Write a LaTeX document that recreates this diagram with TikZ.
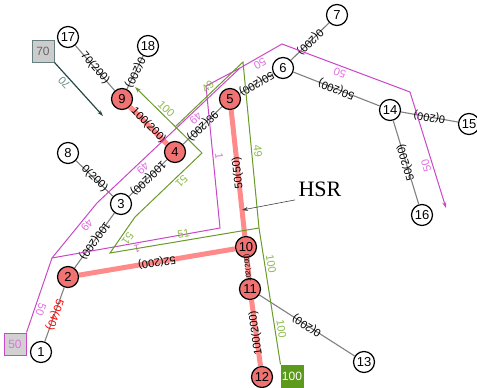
\documentclass[tikz,border=0pt]{standalone}
\usepackage{fontspec}
\setmainfont{Liberation Sans}
\newfontfamily\hsrfont{Liberation Serif}
\usetikzlibrary{arrows.meta}

\definecolor{edgegray}{HTML}{808080}
\definecolor{hotred}{HTML}{FF8A8A}
\definecolor{nodered}{HTML}{F07272}
\definecolor{flowmag}{HTML}{C848C8}
\definecolor{labmag}{HTML}{E070E0}
\definecolor{flowgreen}{HTML}{6A9A2A}
\definecolor{labgreen}{HTML}{8CBB4C}
\definecolor{boxgreen}{HTML}{5C9A1C}
\definecolor{flowteal}{HTML}{264848}
\definecolor{labteal}{HTML}{6A8C8C}

\begin{document}
\begin{tikzpicture}[x=1pt, y=-1pt,
        stop/.style={circle, draw=black, line width=1.2pt, fill=white, minimum size=21pt, inner sep=0pt, font=\fontsize{13}{13}\selectfont},
        hot/.style={stop, fill=nodered},
        link/.style={draw=edgegray, line width=1.1pt},
        busy/.style={draw=hotred, line width=5pt},
        linklabel/.style={sloped, allow upside down, inner sep=1pt, font=\fontsize{11}{11}\selectfont},
        flowlabel/.style={sloped, allow upside down, rotate=180, above=1pt, inner sep=1pt, font=\fontsize{11}{11}\selectfont},
        source/.style={draw, line width=1pt, minimum width=22pt, minimum height=22pt, inner sep=0pt, font=\fontsize{12}{12}\selectfont},
        flowtip/.style={-{Stealth[length=6pt, width=4pt]}}
    ]
    \useasboundingbox (0,0) rectangle (477,388);

    % Stops
    \node[stop] (n1) at (41,352) {1};
    \node[hot] (n2) at (68,277) {2};
    \node[stop] (n3) at (121,204) {3};
    \node[hot] (n4) at (175,152) {4};
    \node[hot] (n5) at (230,99) {5};
    \node[stop] (n6) at (283,68) {6};
    \node[stop] (n7) at (337,15) {7};
    \node[stop] (n8) at (68,153) {8};
    \node[hot] (n9) at (122,99) {9};
    \node[hot] (n10) at (246,247) {10};
    \node[hot] (n11) at (250,289) {11};
    \node[hot] (n12) at (262,377) {12};
    \node[stop] (n13) at (364,362) {13};
    \node[stop] (n14) at (390,110) {14};
    \node[stop] (n15) at (469,124) {15};
    \node[stop] (n16) at (422,215) {16};
    \node[stop] (n17) at (68,37) {17};
    \node[stop] (n18) at (148,46) {18};

    % Links
    \foreach \a/\b/\t in {17/9/70(200), 18/9/0(200), 8/3/0(200), 4/3/100(200), 3/2/100(200), 5/4/98(200),
                          6/5/50(200), 7/6/0(200), 14/6/50(200), 15/14/0(200), 16/14/50(200), 13/11/0(200)}
        \draw[link] (n\a) -- node[linklabel] {\t} (n\b);
    \draw[link] (n2) -- node[linklabel, text=red] {50(40)} (n1);

    % Busy links
    \foreach \a/\b/\t in {9/4/100(200), 10/2/52(200), 10/5/50(50), 12/11/100(200)}
        \draw[busy] (n\a) -- node[linklabel] {\t} (n\b);
    \draw[busy] (n11) -- node[linklabel, font=\fontsize{7}{7}\selectfont] {102(200)} (n10);

    % Sources
    \node[source, draw=flowmag, fill=black!18, text=labmag] (b50) at (15,344) {50};
    \node[source, draw=flowteal!70, fill=black!20, text=black!60] (b70) at (43,51) {70};
    \node[source, draw=boxgreen, fill=boxgreen, text=white] (b100) at (292,376) {100};

    % Magenta flow
    \coordinate (mB) at (52,258);
    \coordinate (mC) at (97,203);
    \coordinate (mE) at (240,68);
    \coordinate (mF) at (282,44);
    \coordinate (mG) at (410,92);
    \coordinate (mH) at (446,208);
    \coordinate (mI) at (220,228);
    \coordinate (mJ) at (206,86);
    \draw[flowmag, line width=1pt, flowtip] (b50.north east) -- node[flowlabel, text=labmag, pos=0.33] {50} (mB)
        -- node[flowlabel, text=labmag, pos=0.67] {49} (mC)
        -- node[flowlabel, text=labmag, pos=0.29] {49} node[flowlabel, text=labmag, pos=0.66] {49} (mE)
        -- node[flowlabel, text=labmag, pos=0.4] {50} (mF)
        -- node[flowlabel, text=labmag, pos=0.47] {50} (mG)
        -- node[flowlabel, text=labmag, pos=0.62] {50} (mH);
    \draw[flowmag, line width=1pt] (mB) -- node[flowlabel, text=labmag] {1} (mI)
        -- node[flowlabel, text=labmag] {1} (mJ) -- (mE);

    % Green flow
    \coordinate (gB) at (259,228);
    \coordinate (gC) at (243,62);
    \coordinate (gD) at (175,127);
    \coordinate (gE) at (110,253);
    \coordinate (gF) at (135,217);
    \coordinate (gG) at (202,153);
    \coordinate (gH) at (135,87);
    \draw[flowgreen, line width=1pt] (b100.north west) -- node[flowlabel, text=labgreen, pos=0.25] {100}
        node[flowlabel, text=labgreen, pos=0.73] {100} (gB)
        -- node[flowlabel, text=labgreen, pos=0.46] {49} (gC)
        -- node[flowlabel, text=labgreen, pos=0.45] {49} (gD);
    \draw[flowgreen, line width=1pt, flowtip] (gB) -- node[flowlabel, text=labgreen] {51} (gE)
        -- node[flowlabel, text=labgreen] {51} (gF)
        -- node[flowlabel, text=labgreen, pos=0.63] {51} (gG)
        -- node[flowlabel, text=labgreen, pos=0.6] {100} (gH);

    % Teal flow
    \coordinate (t70) at (103,116);
    \draw[flowteal, line width=1.2pt, flowtip] (b70.south east) -- node[flowlabel, text=labteal, pos=0.3] {70} (t70);

    % HSR
    \node[font=\hsrfont\fontsize{22}{22}\selectfont] (hsr) at (320,189) {HSR};
    \coordinate (hsrtip) at (242,210);
    \draw[black!75, line width=0.6pt, flowtip] (hsr.south west) -- (hsrtip);
\end{tikzpicture}
\end{document}
